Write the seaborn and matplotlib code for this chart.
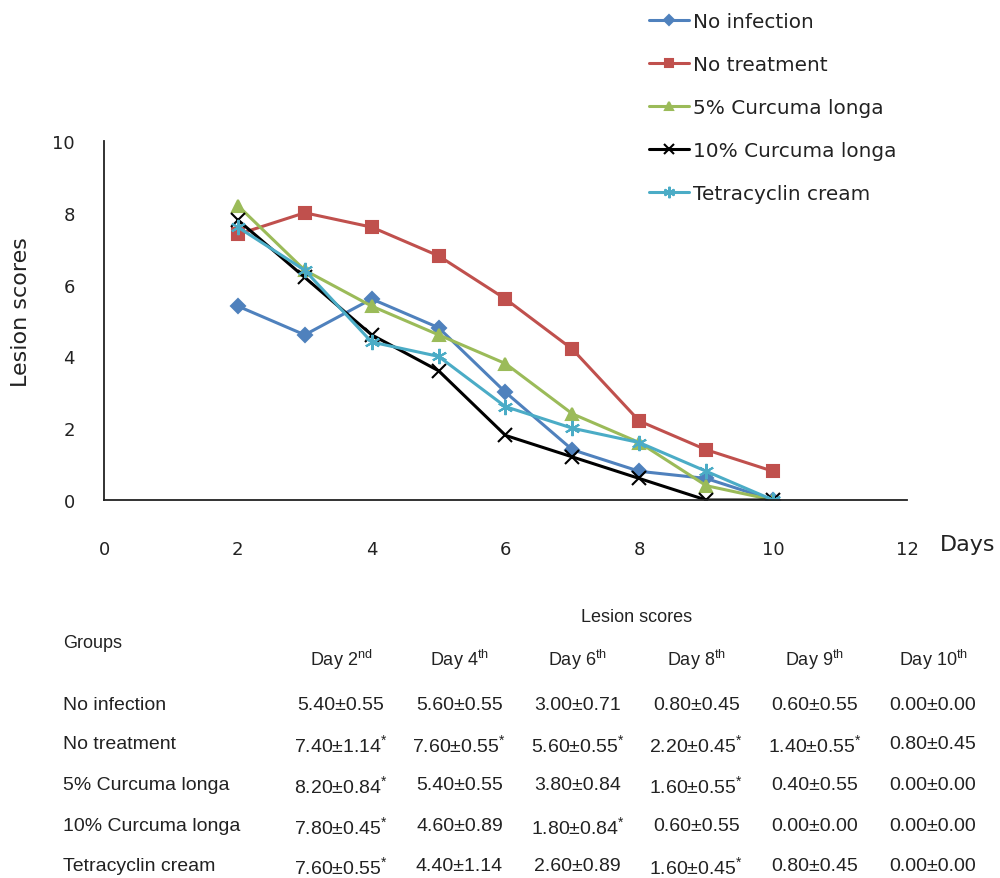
import numpy as np
import pandas as pd
import matplotlib
matplotlib.use("Agg")
import matplotlib.pyplot as plt
import seaborn as sns

# ---------------- data ----------------
days = [2, 3, 4, 5, 6, 7, 8, 9, 10]
groups = ["No infection", "No treatment", "5% Curcuma longa",
          "10% Curcuma longa", "Tetracyclin cream"]
no_infection = [5.4, 4.6, 5.6, 4.8, 3.0, 1.4, 0.8, 0.6, 0.0]
no_treatment = [7.4, 8.0, 7.6, 6.8, 5.6, 4.2, 2.2, 1.4, 0.8]
curcuma_5 = [8.2, 6.4, 5.4, 4.6, 3.8, 2.4, 1.6, 0.4, 0.0]
curcuma_10 = [7.8, 6.2, 4.6, 3.6, 1.8, 1.2, 0.6, 0.0, 0.0]
tetracyclin = [7.6, 6.4, 4.4, 4.0, 2.6, 2.0, 1.6, 0.8, 0.0]
x_ticks = [0, 2, 4, 6, 8, 10, 12]
y_ticks = [0, 2, 4, 6, 8, 10]

# table data
table_days = ["2", "4", "6", "8", "9", "10"]
table_suffix = ["nd", "th", "th", "th", "th", "th"]
table_mean = [
    [5.40, 5.60, 3.00, 0.80, 0.60, 0.00],
    [7.40, 7.60, 5.60, 2.20, 1.40, 0.80],
    [8.20, 5.40, 3.80, 1.60, 0.40, 0.00],
    [7.80, 4.60, 1.80, 0.60, 0.00, 0.00],
    [7.60, 4.40, 2.60, 1.60, 0.80, 0.00],
]
table_sd = [
    [0.55, 0.55, 0.71, 0.45, 0.55, 0.00],
    [1.14, 0.55, 0.55, 0.45, 0.55, 0.45],
    [0.84, 0.55, 0.84, 0.55, 0.55, 0.00],
    [0.45, 0.89, 0.84, 0.55, 0.00, 0.00],
    [0.55, 1.14, 0.89, 0.45, 0.45, 0.00],
]
table_sig = [
    [0, 0, 0, 0, 0, 0],
    [1, 1, 1, 1, 1, 0],
    [1, 0, 0, 1, 0, 0],
    [1, 0, 1, 0, 0, 0],
    [1, 0, 0, 1, 0, 0],
]

colors = ["#4F81BD", "#C0504D", "#9BBB59", "#000000", "#4BACC6"]
markers = ["D", "s", "^", "x", (6, 2, 0)]
msizes = [7, 8.5, 8.5, 10, 11]

series = [no_infection, no_treatment, curcuma_5, curcuma_10, tetracyclin]
df = pd.DataFrame({
    "Day": np.tile(days, len(groups)),
    "Score": np.concatenate(series),
    "Group": np.repeat(groups, len(days)),
})

# ---------------- plot ----------------
sns.set_theme(style="white")
plt.rcParams["font.family"] = ["DejaVu Sans"]
plt.rcParams["mathtext.default"] = "regular"

fig = plt.figure(figsize=(10, 8.79), dpi=100)
ax = fig.add_axes([0.104, 0.430, 0.803, 0.4085])

for g, c, m, ms in zip(groups, colors, markers, msizes):
    sub = df[df["Group"] == g]
    sns.lineplot(data=sub, x="Day", y="Score", color=c, marker=m,
                 markersize=ms, linewidth=2.2, markeredgecolor=c,
                 markerfacecolor=c, markeredgewidth=1.5, legend=False,
                 ax=ax, label=g)

ax.set_xlim(0, 12)
ax.set_ylim(0, 10)
ax.set_xticks(x_ticks)
ax.set_yticks(y_ticks)
ax.tick_params(axis="both", length=0, labelsize=13, colors="#222222")
ax.tick_params(axis="x", pad=29)
ax.tick_params(axis="y", pad=21)
ax.set_xlabel("")
ax.set_ylabel("Lesion scores", fontsize=16, color="#222222")
ax.yaxis.set_label_coords(-0.091, 0.526)
for side in ["top", "right"]:
    ax.spines[side].set_visible(False)
for side in ["left", "bottom"]:
    ax.spines[side].set_color("#222222")
    ax.spines[side].set_linewidth(1.3)
if ax.get_legend() is not None:
    ax.get_legend().remove()

fig.text(0.940, 1 - 545 / 879, "Days", fontsize=16, color="#222222",
         ha="left", va="center")

fig.legend(handles=ax.lines[:len(groups)], labels=groups,
           loc="upper left", bbox_to_anchor=(0.636, 1.0),
           frameon=False, fontsize=14.4, handlelength=2.0,
           handletextpad=0.2, labelspacing=1.2, borderpad=0.15,
           markerscale=0.75, labelcolor="#222222")

# ---------------- table ----------------
tfont = ["Liberation Sans", "DejaVu Sans"]
col_x = np.linspace(0.341, 0.933, len(table_days))
row_y = [705, 745, 786, 827, 867]
fig.text(0.637, 1 - 618 / 879, "Lesion scores", fontsize=13, family=tfont,
         ha="center", va="center", color="#222222")
fig.text(0.063, 1 - 643 / 879, "Groups", fontsize=13, family=tfont,
         ha="left", va="center", color="#222222")
for cx, d, s in zip(col_x, table_days, table_suffix):
    fig.text(cx, 1 - 660 / 879, f"Day {d}$^{{{s}}}$", fontsize=13,
             family=tfont, ha="center", va="center", color="#222222")
for r, g in enumerate(groups):
    ry = 1 - row_y[r] / 879
    fig.text(0.063, ry, g, fontsize=14, family=tfont, ha="left",
             va="center", color="#222222")
    for c, cx in enumerate(col_x):
        txt = f"{table_mean[r][c]:.2f}±{table_sd[r][c]:.2f}"
        if table_sig[r][c]:
            txt += "$^{*}$"
        fig.text(cx, ry, txt, fontsize=14, family=tfont, ha="center",
                 va="center", color="#222222")

fig.savefig("out.png", dpi=100, facecolor="white")
